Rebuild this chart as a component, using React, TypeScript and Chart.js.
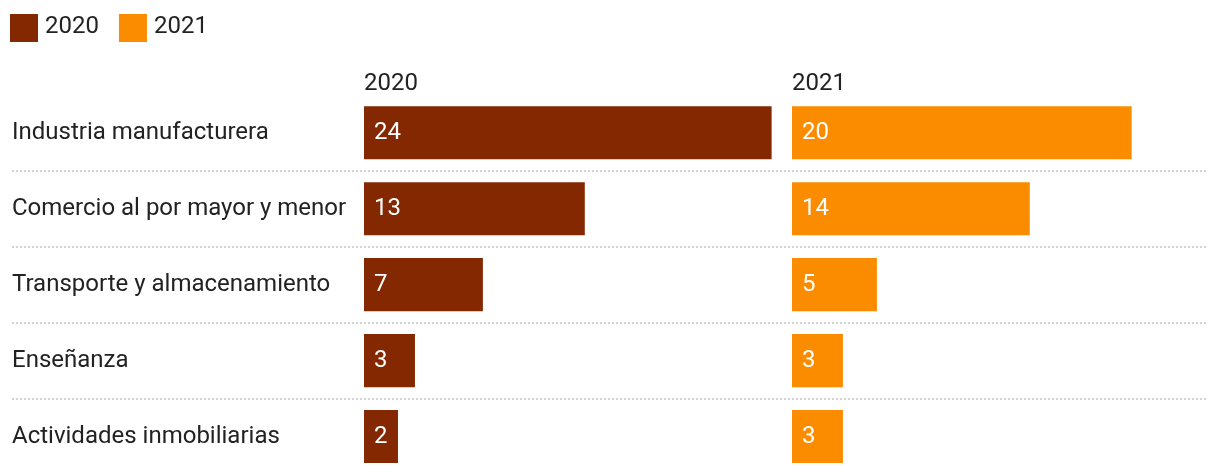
import React, { useEffect, useRef } from "react";
import { Chart, registerables } from "chart.js";

Chart.register(...registerables);

const categories = [
  "Industria manufacturera",
  "Comercio al por mayor y menor",
  "Transporte y almacenamiento",
  "Enseñanza",
  "Actividades inmobiliarias",
];
const years = ["2020", "2021"];
const values2020 = [24, 13, 7, 3, 2];
const values2021 = [20, 14, 5, 3, 3];
const colors = ["#832800", "#fb8c00"];

const FONT = "Roboto";
const FS = 24;
const TEXT = "#222222";

const legendPlugin = {
  id: "customLegend",
  afterDraw(chart: any) {
    const { ctx } = chart;
    ctx.save();
    ctx.font = `${FS}px ${FONT}`;
    ctx.textAlign = "left";
    ctx.textBaseline = "middle";
    let x = 10;
    chart.data.datasets.forEach((ds: any) => {
      ctx.fillStyle = ds.backgroundColor;
      ctx.fillRect(x, 14, 28, 28);
      ctx.fillStyle = TEXT;
      const tx = x + 35;
      ctx.fillText(ds.label, tx, 26.5);
      x = tx + ctx.measureText(ds.label).width + 20;
    });
    ctx.restore();
  },
};

const rowsPlugin = {
  id: "rowsPlugin",
  afterDatasetsDraw(chart: any) {
    const { ctx } = chart;
    const ys = chart.scales.y;
    ctx.save();
    ctx.strokeStyle = "#d2d2d2";
    ctx.lineWidth = 2;
    ctx.setLineDash([2, 2]);
    for (let i = 0; i < categories.length - 1; i++) {
      const y = Math.round((ys.getPixelForValue(i) + ys.getPixelForValue(i + 1)) / 2);
      ctx.beginPath();
      ctx.moveTo(12, y);
      ctx.lineTo(chart.width - 12, y);
      ctx.stroke();
    }
    ctx.setLineDash([]);
    ctx.fillStyle = "#ffffff";
    ctx.font = `${FS}px ${FONT}`;
    ctx.textAlign = "left";
    ctx.textBaseline = "middle";
    chart.data.datasets.forEach((ds: any, di: number) => {
      const meta = chart.getDatasetMeta(di);
      meta.data.forEach((el: any, i: number) => {
        ctx.fillText(String(ds.data[i]), el.base + 10, el.y);
      });
    });
    ctx.restore();
  },
};

const xAxis = (title: string) => ({
  type: "linear",
  position: "top",
  stack: "panels",
  stackWeight: 1,
  min: 0,
  max: 25.2,
  ticks: { display: false },
  grid: { display: false, drawTicks: false },
  border: { display: false },
  title: {
    display: true,
    text: title,
    align: "start",
    color: TEXT,
    font: { family: FONT, size: FS },
    padding: { top: 18, bottom: -4 },
  },
});

export default function App() {
  const ref = useRef<HTMLCanvasElement | null>(null);
  useEffect(() => {
    if (!ref.current) return;
    const chart = new Chart(ref.current, {
      type: "bar",
      data: {
        labels: categories,
        datasets: [
          {
            label: years[0],
            data: values2020,
            backgroundColor: colors[0],
            xAxisID: "x1",
            grouped: false,
            categoryPercentage: 0.7,
            barPercentage: 1,
          },
          {
            label: years[1],
            data: values2021,
            backgroundColor: colors[1],
            xAxisID: "x2",
            grouped: false,
            categoryPercentage: 0.7,
            barPercentage: 1,
          },
        ],
      } as any,
      options: {
        indexAxis: "y",
        animation: false,
        responsive: true,
        maintainAspectRatio: false,
        layout: { autoPadding: false, padding: { left: 12, top: 52, right: 0, bottom: 1.5 } },
        font: { family: FONT },
        plugins: {
          legend: { display: false },
          tooltip: { enabled: false },
        },
        scales: {
          x2: xAxis(years[1]),
          x1: xAxis(years[0]),
          y: {
            type: "category",
            position: "left",
            afterFit: (s: any) => {
              s.width = 352;
            },
            ticks: {
              crossAlign: "far",
              color: TEXT,
              padding: 0,
              font: { family: FONT, size: FS, lineHeight: "2px" },
            },
            grid: { display: false, drawTicks: false },
            border: { display: false },
          },
        } as any,
      } as any,
      plugins: [rowsPlugin, legendPlugin],
    });
    return () => chart.destroy();
  }, []);
  return (
    <div style={{ position: "absolute", left: 0, top: 0, width: 1220, height: 476 }}>
      <canvas ref={ref} />
    </div>
  );
}
